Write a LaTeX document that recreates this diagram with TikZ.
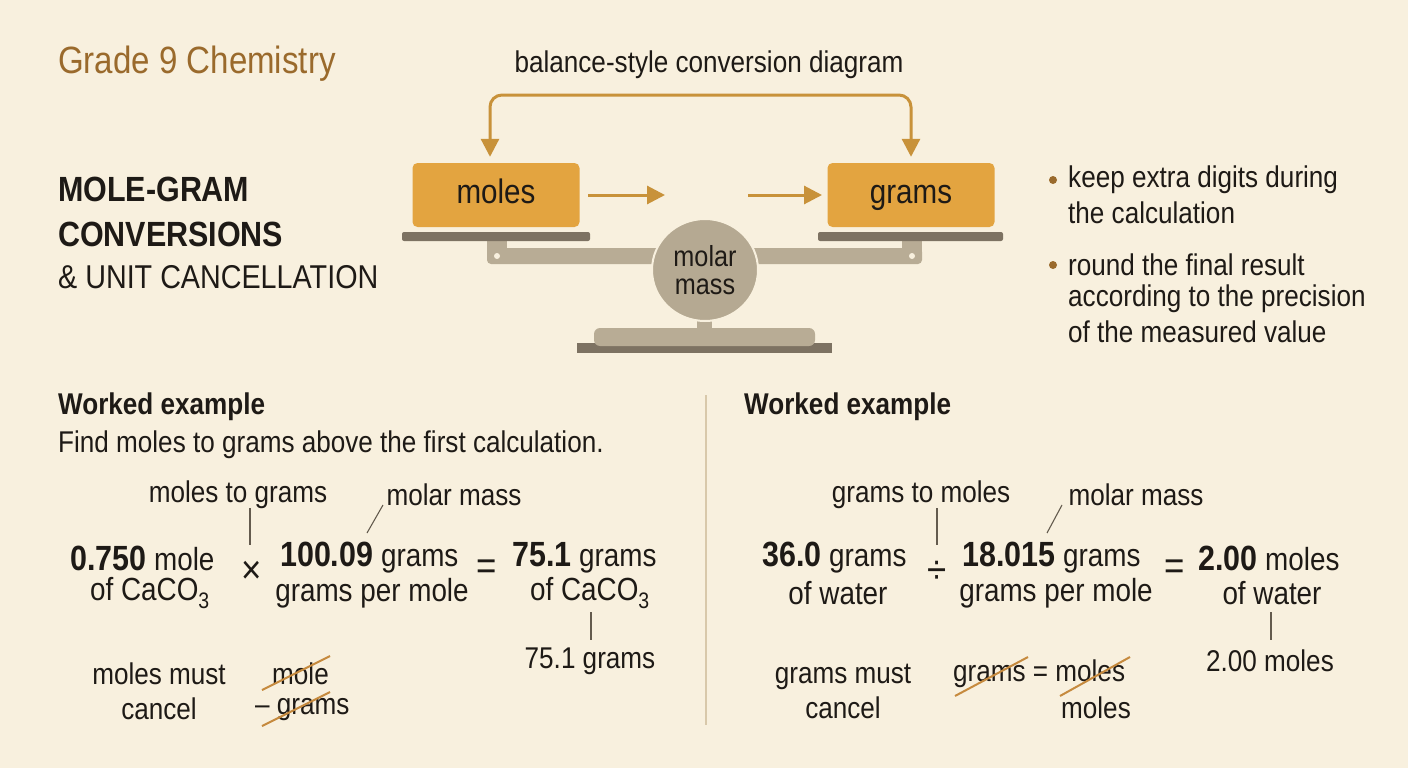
\documentclass[tikz,border=0pt]{standalone}
\usepackage{fontspec}
\setmainfont{Liberation Sans}[FakeStretch=0.87]
\usetikzlibrary{arrows.meta,shapes.geometric}
\definecolor{bg}{HTML}{F8F0DE}
\definecolor{brownt}{HTML}{9A6A2C}
\definecolor{orng}{HTML}{E3A440}
\definecolor{arr}{HTML}{C8923A}
\definecolor{dark}{HTML}{7D7262}
\definecolor{light}{HTML}{B8AC95}
\definecolor{circ}{HTML}{B5A992}
\definecolor{divc}{HTML}{D8C8AA}
\definecolor{strk}{HTML}{C68A3E}
\definecolor{ink}{HTML}{1E1A16}
\tikzset{
 txt/.style={inner sep=0pt, text=ink, font=\fontsize{30}{33}\selectfont},
 eq/.style={inner sep=0pt, text=ink, font=\fontsize{32}{35}\selectfont},
 op/.style={inner sep=0pt, text=ink, font=\fontsize{40}{42}\selectfont},
 box/.style={fill=orng, rounded corners=5pt, inner sep=0pt, text=ink, text height=24pt, text depth=7pt, font=\fontsize{34}{36}\selectfont},
 mytip/.tip={Triangle[length=18pt,width=18pt]},
 flow/.style={draw=arr, line width=3pt, -mytip},
 lead/.style={draw=dark!80!black, line width=1.1pt},
 strike/.style={draw=strk, line width=2pt},
 bullet/.style={circle, fill=brownt, inner sep=0pt, minimum size=8pt},
}
\newcommand{\bnum}[1]{\textbf{\fontsize{35}{36}\selectfont #1}}
\begin{document}
\begin{tikzpicture}[x=1pt,y=-1pt]
\fill[bg] (0,0) rectangle (1408,768);
\useasboundingbox (0,0) rectangle (1408,768);
% headings
\node[anchor=west, inner sep=0pt, text=brownt, font=\fontsize{38}{40}\selectfont] (grade) at (58,64) {Grade 9 Chemistry};
\node[anchor=west, inner sep=0pt, text=ink, font=\fontsize{35}{37}\selectfont\bfseries] (t1) at (58,189) {MOLE-GRAM};
\node[anchor=west, inner sep=0pt, text=ink, font=\fontsize{35}{37}\selectfont\bfseries] (t2) at (58,234) {CONVERSIONS};
\node[anchor=west, inner sep=0pt, text=ink, font=\fontsize{33}{35}\selectfont] (t3) at (58,277) {\& UNIT CANCELLATION};
\node[txt] (bal) at (709,65) {balance-style conversion diagram};
% balance
\fill[dark] (577,343) rectangle (832,353);
\fill[light, rounded corners=6pt] (594,328) rectangle (815,346);
\fill[light] (697,308) rectangle (712,330);
\fill[light, rounded corners=4pt] (487,248) rectangle (660,264);
\fill[light, rounded corners=4pt] (750,248) rectangle (922,264);
\fill[light] (487,238) rectangle (507,256);
\fill[light] (902,238) rectangle (922,256);
\fill[bg] (497,256) circle (3pt);
\fill[bg] (912,256) circle (3pt);
\fill[dark, rounded corners=2pt] (402,232) rectangle (590,241);
\fill[dark, rounded corners=2pt] (818,232) rectangle (1003,241);
\node[ellipse, fill=circ, draw=bg, line width=2pt, minimum width=106pt, minimum height=102pt, inner sep=0pt, align=center, text=ink, font=\fontsize{29}{28}\selectfont] (mm) at (705,270) {molar\\mass};
\node[box, minimum width=167pt, minimum height=64pt] (moles) at (496,195) {moles};
\node[box, minimum width=167pt, minimum height=64pt] (grams) at (911,195) {grams};
\coordinate (a1) at (588,195); \coordinate (a2) at (665,195);
\coordinate (a3) at (748,195); \coordinate (a4) at (822,195);
\draw[flow] (a1) -- (a2);
\draw[flow] (a3) -- (a4);
\coordinate (c1) at (490,95); \coordinate (c2) at (911,95);
\draw[draw=arr, line width=3pt, rounded corners=12pt, mytip-mytip]
  ([xshift=-6pt,yshift=6pt]moles.north) -- (c1) -- (c2) -- ([yshift=6pt]grams.north);
% bullets
\node[bullet] (b1) at (1053,180) {};
\node[bullet] (b2) at (1053,265) {};
\node[txt, anchor=west] (k1) at (1068,180) {keep extra digits during};
\node[txt, anchor=west] (k2) at (1068,213) {the calculation};
\node[txt, anchor=west] (r1) at (1068,265) {round the final result};
\node[txt, anchor=west] (r2) at (1068,299) {according to the precision};
\node[txt, anchor=west] (r3) at (1068,332) {of the measured value};
% divider
\draw[divc, line width=1.5pt] (706,395) -- (706,725);
% left example
\node[txt, anchor=west, font=\fontsize{30}{33}\selectfont\bfseries] (we1) at (58,407) {Worked example};
\node[txt, anchor=west] (find) at (58,445) {Find moles to grams above the first calculation.};
\node[txt] (lm2g) at (238,495) {moles to grams};
\node[txt] (lmm1) at (454,495) {molar mass};
\node[eq, anchor=west] (e1a) at (70,558) {\bnum{0.750} mole};
\node[eq] (e1b) at (150,593) {of CaCO\textsubscript{3}};
\node[op] (times) at (252,572) {×};
\node[eq, anchor=west] (e1c) at (280,558) {\bnum{100.09} grams};
\node[eq] (e1d) at (372,593) {grams per mole};
\node[op] (eq1) at (487,570) {=};
\node[eq, anchor=west] (e1e) at (512,558) {\bnum{75.1} grams};
\node[eq] (e1f) at (590,593) {of CaCO\textsubscript{3}};
\node[txt] (r1g) at (590,661) {75.1 grams};
\coordinate (l1a) at (250,508); \coordinate (l1b) at (250,545);
\draw[lead] (l1a) -- (l1b);
\coordinate (l2a) at (383,505); \coordinate (l2b) at (367,533);
\draw[lead] (l2a) -- (l2b);
\coordinate (l3a) at (591,612); \coordinate (l3b) at (591,640);
\draw[lead] (l3a) -- (l3b);
\node[txt, align=center] (mmc) at (159,691) {moles must\\[2pt]cancel};
\node[txt, anchor=west] (smole) at (272,674) {mole};
\node[txt, anchor=west] (sgrams) at (255,710) {– grams};
\draw[strike] (262,690) -- (330,656);
\draw[strike] (262,726) -- (330,692);
% right example
\node[txt, anchor=west, font=\fontsize{30}{33}\selectfont\bfseries] (we2) at (744,407) {Worked example};
\node[txt] (lg2m) at (921,495) {grams to moles};
\node[txt] (lmm2) at (1136,495) {molar mass};
\node[eq, anchor=west] (e2a) at (762,558) {\bnum{36.0} grams};
\node[eq] (e2b) at (838,593) {of water};
\node[op] (div) at (937,572) {÷};
\node[eq, anchor=west] (e2c) at (962,558) {\bnum{18.015} grams};
\node[eq] (e2d) at (1056,593) {grams per mole};
\node[op] (eq2) at (1175,570) {=};
\node[eq, anchor=west] (e2e) at (1198,558) {\bnum{2.00} moles};
\node[eq] (e2f) at (1272,593) {of water};
\node[txt] (r2m) at (1270,661) {2.00 moles};
\coordinate (l4a) at (937,508); \coordinate (l4b) at (937,545);
\draw[lead] (l4a) -- (l4b);
\coordinate (l5a) at (1062,505); \coordinate (l5b) at (1047,533);
\draw[lead] (l5a) -- (l5b);
\coordinate (l6a) at (1271,612); \coordinate (l6b) at (1271,640);
\draw[lead] (l6a) -- (l6b);
\node[txt, align=center] (gmc) at (843,691) {grams must\\[2pt]cancel};
\node[txt, anchor=west] (geq) at (953,674) {grams = moles};
\node[txt] (mol2) at (1096,708) {moles};
\draw[strike] (955,696) -- (1028,657);
\draw[strike] (1060,696) -- (1130,657);
\end{tikzpicture}
\end{document}
